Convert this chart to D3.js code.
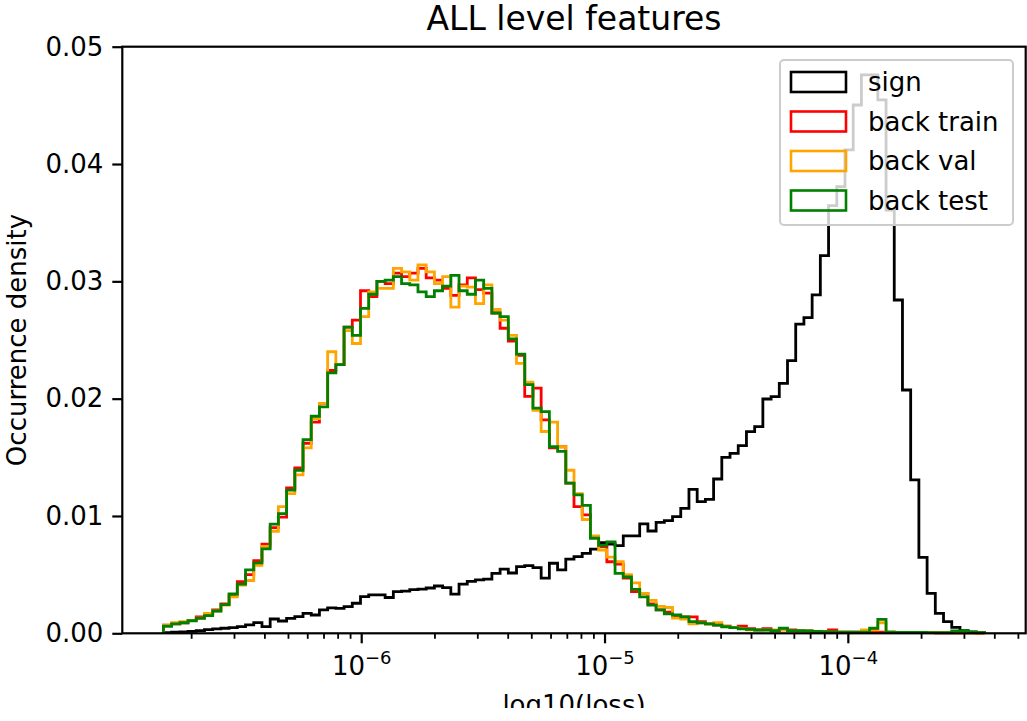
<!DOCTYPE html>
<html>
<head>
<meta charset="utf-8">
<script src="https://cdn.jsdelivr.net/npm/d3@7"></script>
<style>
  body { margin: 0; background: #fff; }
  svg { display: block; font-family: "DejaVu Sans", sans-serif; }
</style>
</head>
<body>
<div id="chart"></div>
<script>
// chart size and axes box (pixels)
const W = 1027, H = 721;
const box = { left: 122.3, right: 1025.7, top: 46.7, bottom: 633.3 };

// histogram binning: 100 log-spaced bins between these log10 limits
const logLo = -6.815, logHi = -3.44, nBins = 100;
const viewLogLo = -6.984, viewLogHi = -3.271;

const seriesNames = ["sign", "back train", "back val", "back test"];
const seriesColors = ["black", "red", "orange", "green"];

const yTicks = [0, 0.01, 0.02, 0.03, 0.04, 0.05];
const xMajorTicks = [1e-6, 1e-5, 1e-4];
const xMajorExp = ["−6", "−5", "−4"];

// densities per bin
const sign = [
  0.00006, 0.00009, 0.00011, 0.00017, 0.00023, 0.00031, 0.00037, 0.00043, 0.00048, 0.00057,
  0.00071, 0.00091, 0.00057, 0.00122, 0.00105, 0.00128, 0.00142, 0.0017, 0.00156, 0.00199,
  0.00216, 0.00213, 0.00227, 0.00256, 0.00313, 0.00327, 0.00327, 0.00305, 0.00355, 0.0036,
  0.00372, 0.00376, 0.00386, 0.00403, 0.0039, 0.00334, 0.00419, 0.00443, 0.00455, 0.00462,
  0.00511, 0.00547, 0.00514, 0.00568, 0.00577, 0.0056, 0.0047, 0.00597, 0.0054, 0.00633,
  0.00653, 0.00682, 0.00718, 0.00773, 0.00761, 0.00747, 0.0083, 0.0083, 0.00932, 0.00872,
  0.00946, 0.0096, 0.00994, 0.01065, 0.01227, 0.01122, 0.01142, 0.01315, 0.015, 0.01534,
  0.016, 0.01719, 0.01762, 0.01997, 0.02017, 0.02131, 0.02324, 0.02635, 0.0269, 0.02884,
  0.0322, 0.03645, 0.03807, 0.0412, 0.04503, 0.04759, 0.04759, 0.04546, 0.03608, 0.02841,
  0.02074, 0.01307, 0.00648, 0.00341, 0.0017, 0.00099, 0.00051, 0.00023, 0.00011, 0.00006
];
const backTrain = [
  0.0007, 0.0008, 0.0009, 0.0011, 0.0014, 0.0016, 0.002, 0.0025, 0.0033, 0.0044,
  0.005, 0.0062, 0.0076, 0.009, 0.0099, 0.0124, 0.0141, 0.0162, 0.018, 0.0196,
  0.0224, 0.0229, 0.0261, 0.0267, 0.0292, 0.0287, 0.03, 0.0298, 0.0307, 0.0304,
  0.0307, 0.0311, 0.0303, 0.0301, 0.0294, 0.0288, 0.0297, 0.0303, 0.0293, 0.029,
  0.0273, 0.026, 0.0249, 0.0237, 0.0202, 0.0209, 0.0182, 0.0158, 0.0159, 0.0128,
  0.0108, 0.0101, 0.0082, 0.0074, 0.0061, 0.0059, 0.0047, 0.00355, 0.0034, 0.0025,
  0.002, 0.0018, 0.0015, 0.0014, 0.0014, 0.001, 0.0008, 0.0007, 0.0006, 0.0005,
  0.0006, 0.0004, 0.0003, 0.0004, 0.0002, 0.0003, 0.0003, 0.0002, 0.0002, 0.00015,
  0.00015, 0.0003, 0.0001, 0.0001, 0.0001, 0.0001, 0.0001, 0.0001, 0.0001, 0.00008,
  0.00007, 0.00006, 0.00005, 0.00005, 0.00004, 0.00004, 0.00004, 0.00003, 0.00003, 0.00002
];
const backVal = [
  0.0007, 0.0009, 0.001, 0.0011, 0.0013, 0.0017, 0.0019, 0.0024, 0.0031, 0.0041,
  0.0045, 0.0058, 0.0074, 0.0087, 0.0108, 0.0119, 0.0135, 0.0158, 0.0183, 0.0196,
  0.024, 0.0229, 0.0258, 0.0247, 0.027, 0.0291, 0.0294, 0.0294, 0.0311, 0.0308,
  0.0301, 0.0314, 0.0308, 0.0298, 0.0304, 0.0278, 0.0296, 0.0295, 0.0281, 0.0297,
  0.0276, 0.0267, 0.0254, 0.023, 0.0214, 0.019, 0.0172, 0.018, 0.0159, 0.0139,
  0.0119, 0.0097, 0.0083, 0.0071, 0.0065, 0.0061, 0.005, 0.0043, 0.0034, 0.0028,
  0.0023, 0.0022, 0.0013, 0.0012, 0.0008, 0.0009, 0.0008, 0.0009, 0.0006, 0.0005,
  0.0004, 0.0003, 0.0003, 0.0003, 0.0003, 0.0003, 0.0002, 0.0002, 0.0002, 0.00015,
  0.00012, 0.0001, 0.0001, 0.0001, 0.0001, 0.0003, 0.0003, 0.0009, 0.0001, 0.00008,
  0.00007, 0.00006, 0.00005, 0.00005, 0.00004, 0.00004, 0.00004, 0.00003, 0.00003, 0.00002
];
const backTest = [
  0.0006, 0.0008, 0.0009, 0.00107, 0.00128, 0.0015, 0.0019, 0.00245, 0.00335, 0.0042,
  0.0054, 0.006, 0.0072, 0.0093, 0.0102, 0.0122, 0.0139, 0.0165, 0.0185, 0.0193,
  0.0222, 0.0229, 0.0261, 0.0254, 0.0277, 0.0289, 0.03, 0.0301, 0.0304, 0.0298,
  0.0297, 0.0291, 0.0287, 0.0292, 0.0296, 0.0305, 0.0292, 0.0289, 0.0301, 0.0294,
  0.0273, 0.027, 0.0251, 0.0238, 0.0212, 0.0192, 0.0189, 0.0159, 0.0155, 0.0128,
  0.0118, 0.0109, 0.0081, 0.0075, 0.0078, 0.0051, 0.0048, 0.00375, 0.0031, 0.0024,
  0.002, 0.00165, 0.00156, 0.0014, 0.001, 0.0009, 0.0008, 0.0007, 0.00056, 0.00048,
  0.00037, 0.00034, 0.00028, 0.00028, 0.00023, 0.00043, 0.00023, 0.00023, 0.0002, 0.00017,
  0.00014, 0.00011, 0.0001, 0.0001, 0.0001, 0.0001, 0.00043, 0.00119, 0.0001, 0.00008,
  0.00008, 0.00007, 0.00007, 0.00006, 0.00006, 0.00006, 0.0002, 0.0002, 0.0001, 0.00005
];

const allSeries = [sign, backTrain, backVal, backTest];

// bin edges in loss units
const edges = d3.range(nBins + 1).map(i => Math.pow(10, logLo + i * (logHi - logLo) / nBins));

const svg = d3.select("#chart").append("svg")
  .attr("width", W)
  .attr("height", H);

const x = d3.scaleLog()
  .domain([Math.pow(10, viewLogLo), Math.pow(10, viewLogHi)])
  .range([box.left, box.right]);
const y = d3.scaleLinear()
  .domain([0, 0.05])
  .range([box.bottom, box.top]);

// step outline like histtype='step'
function stepPoints(vals) {
  const pts = [[edges[0], 0]];
  vals.forEach((v, i) => {
    pts.push([edges[i], v]);
    pts.push([edges[i + 1], v]);
  });
  pts.push([edges[nBins], 0]);
  return pts;
}

const line = d3.line()
  .x(d => x(d[0]))
  .y(d => y(d[1]));

allSeries.forEach((vals, i) => {
  svg.append("path")
    .datum(stepPoints(vals))
    .attr("fill", "none")
    .attr("stroke", seriesColors[i])
    .attr("stroke-width", 2.8)
    .attr("stroke-linejoin", "miter")
    .attr("d", line);
});

// spines
svg.append("rect")
  .attr("x", box.left).attr("y", box.top)
  .attr("width", box.right - box.left).attr("height", box.bottom - box.top)
  .attr("fill", "none").attr("stroke", "black").attr("stroke-width", 2.2);

// y axis
const yAxis = d3.axisLeft(y).tickValues(yTicks).tickFormat(d3.format(".2f")).tickSize(10).tickPadding(9);
const gy = svg.append("g").attr("transform", `translate(${box.left},0)`).call(yAxis);
gy.select(".domain").remove();
gy.selectAll("line").attr("stroke-width", 2.2);
gy.selectAll("text").attr("font-size", 26).attr("font-family", "DejaVu Sans").attr("fill", "black");

// x axis: major + minor ticks
const minorTicks = [];
[1e-7, 1e-6, 1e-5, 1e-4].forEach(dec => {
  d3.range(2, 10).forEach(m => {
    const v = m * dec;
    if (v > x.domain()[0] && v < x.domain()[1]) minorTicks.push(v);
  });
});
const gx = svg.append("g").attr("transform", `translate(0,${box.bottom})`);
gx.selectAll(".minor").data(minorTicks).join("line")
  .attr("x1", d => x(d)).attr("x2", d => x(d))
  .attr("y1", 0).attr("y2", 5.5)
  .attr("stroke", "black").attr("stroke-width", 1.8);
gx.selectAll(".major").data(xMajorTicks).join("line")
  .attr("x1", d => x(d)).attr("x2", d => x(d))
  .attr("y1", 0).attr("y2", 10)
  .attr("stroke", "black").attr("stroke-width", 2.2);
const labels = gx.selectAll(".lab").data(xMajorTicks).join("text")
  .attr("x", d => x(d))
  .attr("y", 42)
  .attr("text-anchor", "middle")
  .attr("font-size", 26)
  .attr("fill", "black");
labels.append("tspan").text("10");
labels.append("tspan")
  .attr("font-size", 18)
  .attr("dy", -11)
  .text((d, i) => xMajorExp[i]);

// title and axis labels
svg.append("text")
  .attr("x", (box.left + box.right) / 2).attr("y", 30)
  .attr("text-anchor", "middle")
  .attr("font-size", 33)
  .text("ALL level features");

svg.append("text")
  .attr("transform", `translate(26,${(box.top + box.bottom) / 2}) rotate(-90)`)
  .attr("text-anchor", "middle")
  .attr("font-size", 26)
  .text("Occurrence density");

svg.append("clipPath").attr("id", "cut")
  .append("rect").attr("x", 0).attr("y", 0).attr("width", W).attr("height", 708);
svg.append("text")
  .attr("clip-path", "url(#cut)")
  .attr("x", (box.left + box.right) / 2).attr("y", 714)
  .attr("text-anchor", "middle")
  .attr("font-size", 26)
  .text("log10(loss)");

// legend
const leg = svg.append("g").attr("transform", "translate(780,60)");
leg.append("rect")
  .attr("width", 233).attr("height", 165)
  .attr("rx", 4)
  .attr("fill", "white").attr("fill-opacity", 0.8)
  .attr("stroke", "#cccccc").attr("stroke-width", 2);
seriesNames.forEach((name, i) => {
  const row = leg.append("g").attr("transform", `translate(0,${22 + i * 39.5})`);
  row.append("rect")
    .attr("x", 11).attr("y", -10)
    .attr("width", 55).attr("height", 20)
    .attr("fill", "none")
    .attr("stroke", seriesColors[i])
    .attr("stroke-width", 2.6);
  row.append("text")
    .attr("x", 88).attr("y", 9)
    .attr("font-size", 26)
    .text(name);
});
</script>
</body>
</html>
